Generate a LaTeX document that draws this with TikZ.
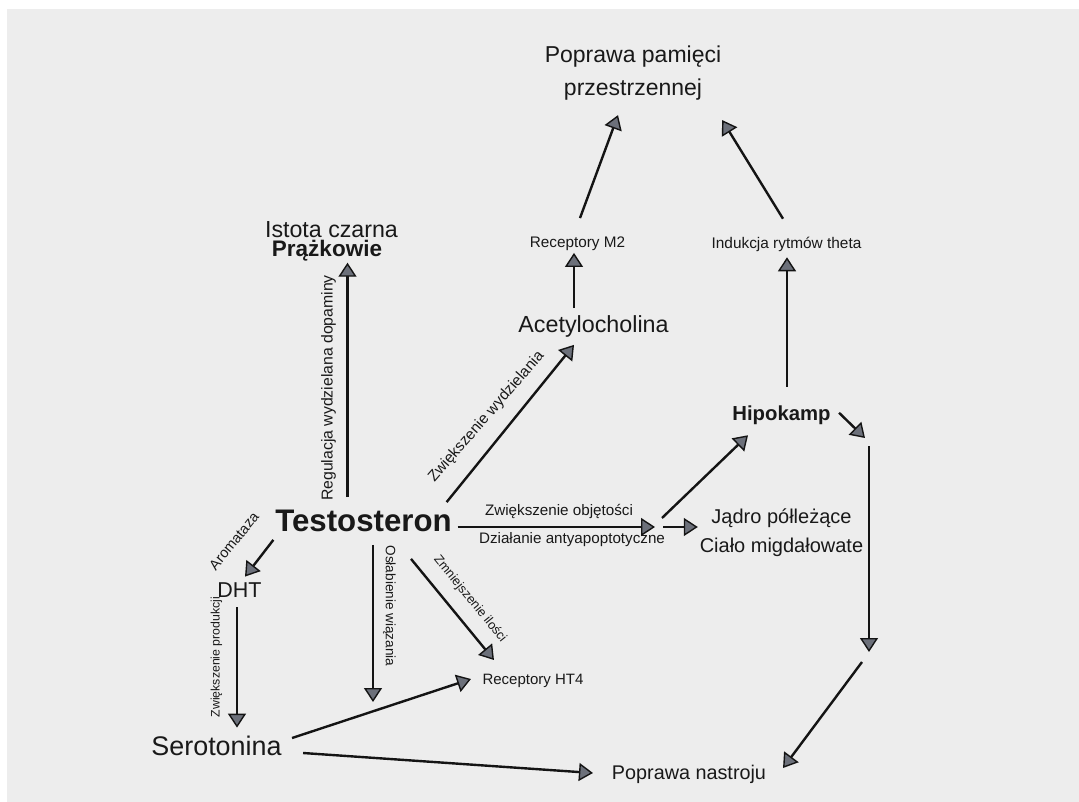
\documentclass[tikz,border=0pt]{standalone}
\usepackage{fontspec}
\setmainfont{Liberation Sans}
\usetikzlibrary{arrows.meta,calc}
\definecolor{bgc}{RGB}{237,237,237}
\definecolor{headc}{RGB}{108,112,122}
\definecolor{linec}{RGB}{20,20,20}
\definecolor{txtc}{RGB}{25,25,25}
\newcommand{\fsz}[2]{\fontsize{#1}{#2}\selectfont}
\begin{document}
\begin{tikzpicture}[x=1pt,y=-1pt,
  lbl/.style={inner sep=0pt, outer sep=0pt, text=txtc},
  arr/.style={draw=linec, line width=2.4pt,
    -{Triangle[length=14pt,width=18pt,fill=headc,line width=1.4pt]}},
]
\useasboundingbox (0,0) rectangle (1079,802);
\fill[bgc] (7,9) rectangle (1079,802);

% main nodes
\node[lbl, font=\fsz{23}{33}, align=center] (pop) at (633,73.5) {Poprawa pamięci\\przestrzennej};
\node[lbl, font=\fsz{15.3}{18}] (m2) at (577.5,244) {Receptory M2};
\node[lbl, font=\fsz{15.4}{18}] (theta) at (786.5,244) {Indukcja rytmów theta};
\node[lbl, font=\fsz{23.2}{19}, align=center] (ist) at (331.5,241.2) {Istota czarna\\{\fsz{22.5}{19}\bfseries\hspace*{-9pt}Prążkowie}};
\node[lbl, font=\fsz{23.3}{27}] (ach) at (593.5,326) {Acetylocholina};
\node[lbl, font=\fsz{20.3}{23}\bfseries] (hip) at (781.5,414.8) {Hipokamp};
\node[lbl, font=\fsz{20}{29}, align=center] (jad) at (781.5,532.3) {Jądro półleżące\\Ciało migdałowate};
\node[lbl, font=\fsz{31.2}{34}\bfseries] (test) at (363.5,521) {Testosteron};
\node[lbl, font=\fsz{21.5}{23}] (dht) at (239.5,590) {DHT};
\node[lbl, font=\fsz{26.9}{30}] (ser) at (216.5,745.5) {Serotonina};
\node[lbl, font=\fsz{15}{18}] (ht4) at (533,681) {Receptory HT4};
\node[lbl, font=\fsz{19.8}{23}] (nas) at (689,774) {Poprawa nastroju};

% free ends
\coordinate (jA) at (655,527);
\coordinate (r1) at (865,438);
\coordinate (r2) at (869,446);
\coordinate (r3) at (869,652);
\coordinate (r4) at (862,662);
\coordinate (osl) at (373,702);

% edge labels
\node[lbl, font=\fsz{15.8}{18}, rotate=90] (lreg) at (328.5,388) {Regulacja wydzielana dopaminy};
\node[lbl, font=\fsz{15.3}{18}, rotate=49] (lzw) at (486.5,417) {Zwiększenie wydzielania};
\node[lbl, font=\fsz{15.2}{18}] (lobj) at (559,511) {Zwiększenie objętości};
\node[lbl, font=\fsz{15.2}{18}] (lant) at (572,540) {Działanie antyapoptotyczne};
\node[lbl, font=\fsz{14.4}{18}, rotate=51] (larom) at (234,541) {Aromataza};
\node[lbl, font=\fsz{13.6}{18}, rotate=-90] (losl) at (389.5,606) {Osłabienie wiązania};
\node[lbl, font=\fsz{12.8}{18}, rotate=-51] (lzmn) at (470,599) {Zmniejszenie ilości};
\node[lbl, font=\fsz{12.3}{18}, rotate=90] (lprod) at (216.5,657) {Zwiększenie produkcji};

% connectors
\draw[arr] ($(test.north)+(-16,-13)$) -- ($(ist.south)+(16,1.7)$);
\draw[arr] ($(test.north east)+(-5,-8)$) -- ($(ach.south)+(-19.5,8)$);
\draw[arr] ($(ach.north)+(-19.5,-7)$) -- ($(m2.south)+(-3.5,2)$);
\draw[arr] ($(m2.north)+(2.5,-19)$) -- ($(pop.south)+(-15,14.4)$);
\draw[arr] ($(theta.north)+(-3.5,-18)$) -- ($(pop.south east)+(1,19.4)$);
\draw[arr] ($(hip.north)+(5.5,-18.7)$) -- ($(theta.south)+(0.5,6)$);
\draw[arr] ($(test.east |- jA)+(6,0)$) -- (jA);
\draw[arr] ($(jA)+(7,-9)$) -- ($(hip.south)+(-33.5,11)$);
\draw[arr] ($(jA)+(8,0)$) -- ($(jad.west |- jA)+(-2,0)$);
\draw[arr] ($(hip.east)+(8.5,-2)$) -- (r1);
\draw[arr] (r2) -- (r3);
\draw[arr] (r4) -- ($(nas.east)+(17,-6)$);
\draw[arr] ($(test.south west)+(-2,8)$) -- ($(dht.north)+(5.5,-6)$);
\draw[arr] ($(dht.south)+(-2.5,10)$) -- ($(ser.north)+(20.5,-8)$);
\draw[arr] ($(test.south)+(9.5,13)$) -- (osl);
\draw[arr] ($(test.south)+(47.5,27)$) -- ($(ht4.north west)+(11.4,-14.3)$);
\draw[arr] ($(ser.east)+(10.5,-7.5)$) -- ($(ht4.west)+(-11.6,-2)$);
\draw[arr] ($(ser.east)+(21.5,7.5)$) -- ($(nas.west)+(-19,-1)$);
\end{tikzpicture}
\end{document}
